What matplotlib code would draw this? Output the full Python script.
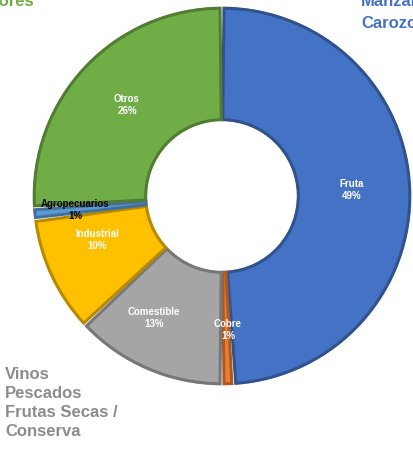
import matplotlib
matplotlib.use('Agg')
import matplotlib.pyplot as plt
import matplotlib.colors as mcolors
import matplotlib.patches as mpatches

plt.rcParams['font.family'] = ['Liberation Sans', 'DejaVu Sans']

# datos
categorias = ['Fruta', 'Cobre', 'Comestible', 'Industrial', 'Agropecuarios', 'Otros']
porcentajes = [49, 1, 13, 10, 1, 26]
colores = ['#4472C4', '#ED7D31', '#A5A5A5', '#FFC000', '#5B9BD5', '#70AD47']
colores_txt = ['white', 'white', 'white', 'white', 'black', 'white']

fig = plt.figure(figsize=(4.14, 4.51), dpi=100)
ax = fig.add_axes([0, 0, 1, 1])

cx, cy, R = 222, 255, 190
ancho = 0.61

wedges, _ = ax.pie(porcentajes, colors=colores, startangle=90, counterclock=False,
                   center=(cx, cy), radius=R, frame=True,
                   wedgeprops=dict(width=R * ancho, edgecolor='white', linewidth=1.5))
ax.set_xlim(0, 414)
ax.set_ylim(0, 451)
ax.set_aspect('equal')
ax.axis('off')

# borde oscuro de cada porcion
for w, c in zip(wedges, colores):
    oscuro = [v * 0.72 for v in mcolors.to_rgb(c)]
    gap = 0.6
    borde = mpatches.Wedge((cx, cy), R - 2.2, w.theta1 + gap, w.theta2 - gap,
                           width=R * ancho - 4.4, facecolor='none',
                           edgecolor=oscuro, linewidth=2.2)
    ax.add_patch(borde)

# etiquetas dentro del anillo
posiciones = {
    'Fruta': (352, 190), 'Cobre': (228, 330), 'Comestible': (154, 318),
    'Industrial': (97, 240), 'Agropecuarios': (75, 210), 'Otros': (127, 105),
}
for cat, p, ct in zip(categorias, porcentajes, colores_txt):
    x, y = posiciones[cat]
    ax.text(x, 451 - y, f'{cat}\n{p}%', ha='center', va='center', fontsize=7,
            fontweight='bold', color=ct, linespacing=1.3)

# textos externos
fig.text(35 / 414, 1 - 2 / 451, 'Flores', ha='right', va='center', fontsize=12,
         fontweight='bold', color='#70AD47')
fig.text(361 / 414, 1 - 1 / 451, 'Manzana', ha='left', va='center',
         fontsize=12, fontweight='bold', color='#4472C4')
fig.text(361 / 414, 1 - 24 / 451, 'Carozo', ha='left', va='center',
         fontsize=12, fontweight='bold', color='#4472C4')
fig.text(5 / 414, 1 - 403 / 451, 'Vinos\nPescados\nFrutas Secas /\nConserva',
         ha='left', va='center', fontsize=12, fontweight='bold', color='#8C8C8C',
         linespacing=1.35)

fig.savefig('out.png', dpi=100)
